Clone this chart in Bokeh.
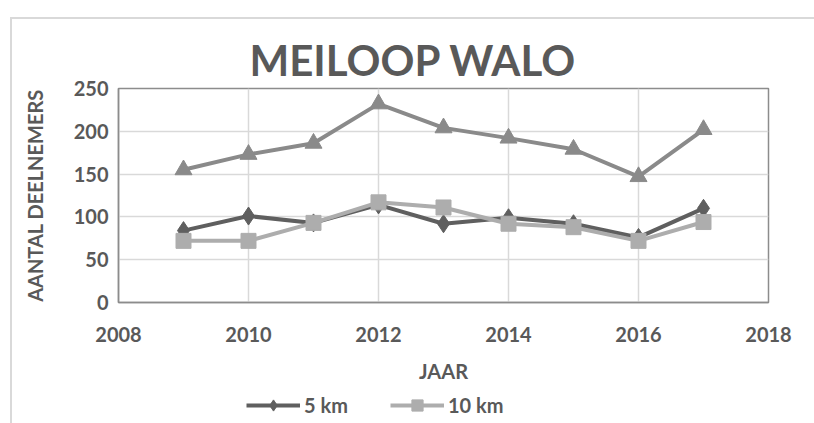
from bokeh.plotting import figure
from bokeh.models import Range1d, FixedTicker, Legend, LegendItem, Title, Div
from bokeh.layouts import column
from bokeh.embed import file_html
from bokeh.resources import INLINE

years = [2009, 2010, 2011, 2012, 2013, 2014, 2015, 2016, 2017]
km5 = [84, 101, 93, 114, 92, 99, 92, 76, 110]
km10 = [72, 72, 93, 117, 111, 92, 88, 72, 94]
total = [155, 173, 186, 232, 204, 192, 179, 147, 202]
x_ticks = [2008, 2010, 2012, 2014, 2016, 2018]
y_ticks = [0, 50, 100, 150, 200, 250]
series_names = ["5 km", "10 km"]

TXT = "#595959"
FONT = "Lato"
C5, C10, CT = "#5f5f5f", "#adadad", "#8a8a8a"

p = figure(width=814, height=390, output_backend="svg", toolbar_location=None,
           x_range=Range1d(2008, 2018), y_range=Range1d(0, 250),
           min_border_left=118, min_border_right=46, min_border_top=88, min_border_bottom=88)
p.title = None
p.outline_line_color = "#8c8c8c"
p.outline_line_width = 1.5

for ax in (p.xaxis[0], p.yaxis[0]):
    ax.major_label_text_font = FONT
    ax.major_label_text_font_style = "bold"
    ax.major_label_text_font_size = "20px"
    ax.major_label_text_color = TXT
    ax.major_tick_line_color = None
    ax.minor_tick_line_color = None
    ax.axis_line_color = "#8c8c8c"
    ax.axis_line_width = 1.5
    ax.axis_label_text_font = FONT
    ax.axis_label_text_font_style = "bold"
    ax.axis_label_text_font_size = "20px"
    ax.axis_label_text_color = TXT
p.xaxis.ticker = FixedTicker(ticks=x_ticks)
p.yaxis.ticker = FixedTicker(ticks=y_ticks)
p.xaxis.major_label_standoff = 18
p.yaxis.major_label_standoff = 4

p.yaxis.axis_label = "AANTAL DEELNEMERS"
p.yaxis.axis_label_standoff = 24
p.xaxis.axis_label = "JAAR"
p.xaxis.axis_label_standoff = 14

p.xgrid.grid_line_color = "#d9d9d9"
p.ygrid.grid_line_color = "#d9d9d9"
p.xgrid.grid_line_width = 1.5
p.ygrid.grid_line_width = 1.5

p.line(years, total, line_color=CT, line_width=4)
p.scatter(years, total, marker="triangle", size=17, fill_color=CT, line_color=CT)

p.line(years, km5, line_color=C5, line_width=4)
p.scatter(years, km5, marker="diamond", size=18, fill_color=C5, line_color=C5)
p.line(years, km10, line_color=C10, line_width=4)
p.scatter(years, km10, marker="square", size=15, fill_color=C10, line_color=C10)

title = Title(text="MEILOOP WALO", align="left", offset=131, text_font=FONT,
              text_font_style="bold", text_font_size="42px", text_color=TXT, standoff=8)
p.add_layout(title, "above")

# legend strip under the chart (series drawn off-view so only legend icons show)
p2 = figure(width=814, height=30, output_backend="svg", toolbar_location=None,
            x_axis_type=None, y_axis_type=None,
            x_range=Range1d(2008, 2018), y_range=Range1d(1000, 1001),
            min_border=0)
p2.title = None
p2.outline_line_color = None
k5l = p2.line(years, km5, line_color=C5, line_width=4)
k5s = p2.scatter(years, km5, marker="diamond", size=18, fill_color=C5, line_color=C5)
k10l = p2.line(years, km10, line_color=C10, line_width=4)
k10s = p2.scatter(years, km10, marker="square", size=15, fill_color=C10, line_color=C10)

legend = Legend(items=[LegendItem(label=series_names[0], renderers=[k5l, k5s]),
                       LegendItem(label=series_names[1], renderers=[k10l, k10s])],
                orientation="horizontal", location=(128, 1),
                label_text_font=FONT, label_text_font_style="bold",
                label_text_font_size="20px", label_text_color=TXT,
                glyph_width=54, glyph_height=28, label_standoff=4, spacing=42,
                border_line_color=None, background_fill_alpha=0,
                padding=0, margin=0)
p2.add_layout(legend)

border = Div(text="", width=820, height=420,
             styles={"position": "fixed", "left": "5px", "top": "12px",
                     "border-left": "2px solid #d9d9d9", "border-top": "2px solid #d9d9d9",
                     "pointer-events": "none"})

open("out.html", "w").write(file_html(column(p, p2, border, spacing=0), INLINE))
